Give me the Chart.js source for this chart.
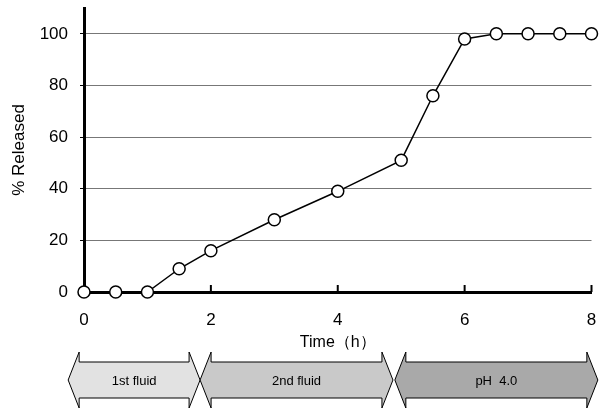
<!DOCTYPE html>
<html>
<head>
<meta charset="utf-8">
<script src="https://cdn.jsdelivr.net/npm/chart.js@4"></script>
<style>
  html, body { margin: 0; padding: 0; background: #fff; }
  #wrap { width: 599px; height: 412px; }
</style>
</head>
<body>
<div id="wrap"><canvas id="release-chart" width="599" height="412"></canvas></div>
<script>
// temps (h) et % libéré
const hours = [0, 0.5, 1, 1.5, 2, 3, 4, 5, 5.5, 6, 6.5, 7, 7.5, 8];
const released = [0, 0, 0, 9, 16, 28, 39, 51, 76, 98, 100, 100, 100, 100];

// phases du milieu de dissolution (flèches sous l'axe)
const phaseLabels = ['1st fluid', '2nd fluid', 'pH  4.0'];
const phaseFrom = [-0.25, 1.83, 4.9];
const phaseTo = [1.83, 4.87, 8.1];
const phaseColors = ['#e2e2e2', '#c9c9c9', '#a9a9a9'];

const FONT = "'Liberation Sans', Arial, sans-serif";

// dessine les flèches doubles + ticks intérieurs de l'axe x
const phasePlugin = {
  id: 'phases',
  afterDraw(chart) {
    const ctx = chart.ctx;
    const x = chart.scales.x;
    const yTop = 352, yBot = 408, bodyTop = 362, bodyBot = 398, head = 11;
    const yMid = (yTop + yBot) / 2;

    phaseLabels.forEach((label, i) => {
      const l = x.getPixelForValue(phaseFrom[i]);
      const r = x.getPixelForValue(phaseTo[i]);
      ctx.save();
      ctx.beginPath();
      ctx.moveTo(l, yMid);
      ctx.lineTo(l + head, yTop);
      ctx.lineTo(l + head, bodyTop);
      ctx.lineTo(r - head, bodyTop);
      ctx.lineTo(r - head, yTop);
      ctx.lineTo(r, yMid);
      ctx.lineTo(r - head, yBot);
      ctx.lineTo(r - head, bodyBot);
      ctx.lineTo(l + head, bodyBot);
      ctx.lineTo(l + head, yBot);
      ctx.closePath();
      ctx.fillStyle = phaseColors[i];
      ctx.fill();
      ctx.lineWidth = 1;
      ctx.strokeStyle = '#000';
      ctx.stroke();
      ctx.fillStyle = '#000';
      ctx.font = '13px ' + FONT;
      ctx.textAlign = 'center';
      ctx.textBaseline = 'middle';
      ctx.fillText(label, (l + r) / 2, yMid + 1);
      ctx.restore();
    });

    // petits ticks vers l'intérieur sur l'axe x
    const base = chart.scales.y.getPixelForValue(0);
    ctx.save();
    ctx.strokeStyle = '#000';
    ctx.lineWidth = 2;
    x.ticks.forEach(t => {
      if (t.value === 0) return;
      const px = x.getPixelForValue(t.value);
      ctx.beginPath();
      ctx.moveTo(px, base);
      ctx.lineTo(px, base - 7);
      ctx.stroke();
    });
    ctx.restore();
  }
};

const ctx = document.getElementById('release-chart').getContext('2d');
new Chart(ctx, {
  type: 'line',
  data: {
    datasets: [{
      label: '% Released',
      data: hours.map((h, i) => ({ x: h, y: released[i] })),
      borderColor: '#000',
      borderWidth: 1.5,
      pointRadius: 6,
      pointBorderWidth: 1.5,
      pointBackgroundColor: '#fff',
      pointBorderColor: '#000',
      tension: 0,
      clip: false,
    }]
  },
  options: {
    responsive: false,
    animation: false,
    layout: { padding: { left: 0, right: 7, top: 8, bottom: 60 } },
    plugins: {
      legend: { display: false },
      tooltip: { enabled: false }
    },
    scales: {
      x: {
        type: 'linear',
        min: 0,
        max: 8,
        ticks: {
          stepSize: 2,
          color: '#000',
          font: { family: FONT, size: 17 },
          padding: 18
        },
        grid: { drawOnChartArea: false, drawTicks: false },
        border: { color: '#000', width: 3 },
        title: {
          display: true,
          text: 'Time（h）',
          color: '#000',
          font: { family: FONT, size: 16 },
          padding: { top: 4, bottom: 0 }
        },
        afterFit(scale) {
          scale.height = 60;
          scale.paddingLeft = 0;
          scale.paddingRight = 0;
        }
      },
      y: {
        min: 0,
        max: 110,
        ticks: {
          stepSize: 20,
          includeBounds: false,
          color: '#000',
          font: { family: FONT, size: 17 },
          padding: 12,
          callback: v => (v % 20 === 0 ? v : '')
        },
        grid: {
          color: c => (c.tick && c.tick.value % 20 === 0 && c.tick.value > 0 ? '#777' : 'rgba(0,0,0,0)'),
          tickColor: '#000',
          tickLength: 4,
          lineWidth: 1
        },
        border: { color: '#000', width: 3 },
        title: {
          display: true,
          text: '% Released',
          color: '#000',
          font: { family: FONT, size: 17 },
          padding: { top: 9, bottom: 0 }
        },
        afterFit(scale) {
          scale.width = 84;
          scale.paddingTop = 0;
          scale.paddingBottom = 0;
        }
      }
    }
  },
  plugins: [phasePlugin]
});
</script>
</body>
</html>
